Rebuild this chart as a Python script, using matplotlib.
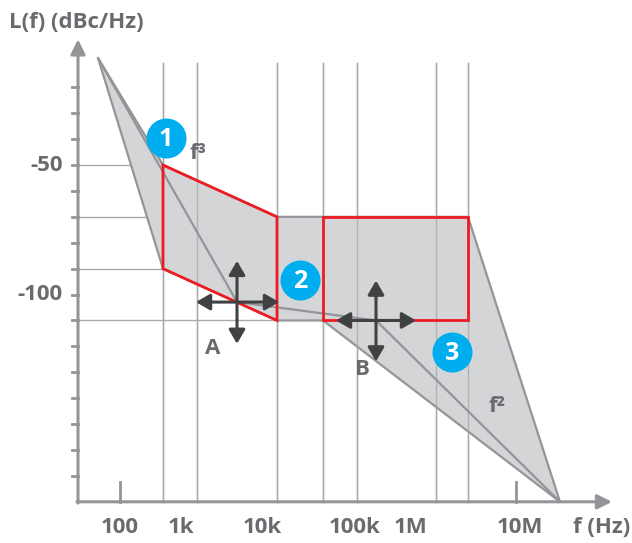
import matplotlib
matplotlib.use("Agg")
import matplotlib.pyplot as plt
from matplotlib.patches import Polygon

plt.rcParams['font.family'] = ['Open Sans', 'DejaVu Sans']

# schematic x positions (diagram units) and noise levels in dBc/Hz
xtick_labels = ["100", "1k", "10k", "100k", "1M", "10M"]
xtick_pos = [120, 181, 262, 355, 411, 520]
xgrid = [163, 197, 277, 323, 357, 436, 468]
ytick_major = [-50, -100]
ytick_minor = [-20, -30, -40, -60, -70, -80, -90, -110, -120, -130, -140, -150, -160, -170]
hgrid = [(-50, 163), (-70, 277), (-90, 163), (-110, 277)]

# shaded envelope of possible noise profiles
env_x = [98, 163, 277, 323, 560, 468, 277, 163]
env_y = [-8.7, -90, -110, -110, -180, -70, -70, -50]
# typical profile
mid_x = [98, 237, 376, 560]
mid_y = [-8.7, -102.9, -110, -180]
# red regions
quad_x = [163, 277, 277, 163]
quad_y = [-50, -70, -110, -90]
rect_x = [323, 468, 468, 323]
rect_y = [-70, -70, -110, -110]

badges = [("1", 166, -39.5), ("2", 300, -94.4), ("3", 452, -122.2)]
slopes = [("f³", 198, -45.4), ("f²", 497, -143.4)]
points = [("A", 213, -120.7), ("B", 362, -128.8)]
crosses = [(237, -102.9, 196, 279, -87.0, -119.0), (376, -110, 336, 416, -94.6, -125.8)]

GRAY_TXT = "#6a6b6e"
GRAY_LN = "#939598"
GRID = "#a7a9ac"
FILL = "#d4d5d7"
RED = "#ed1c24"
BLUE = "#00aeef"
DARK = "#414042"

fig = plt.figure(figsize=(6.32, 5.43), dpi=100)
ax = fig.add_axes([0, 0, 1, 1])
ax.set_xlim(0, 632)
ax.set_ylim(-195.9, 13.7)
ax.axis("off")

# grid
for x in xgrid:
    ax.plot([x, x], [-180, -10.5], color=GRID, lw=1.0, zorder=1)
for y, xe in hgrid:
    ax.plot([80, xe], [y, y], color=GRID, lw=1.0, zorder=1)

# envelope
ax.add_patch(Polygon(list(zip(env_x, env_y)), closed=True, facecolor=FILL,
                     edgecolor=GRAY_LN, lw=1.6, zorder=2))
ax.plot(mid_x, mid_y, color=GRAY_LN, lw=1.6, zorder=3)
for x in xgrid:
    ax.plot([x, x], [-180, -10.5], color=GRID, lw=1.0, zorder=2.5, alpha=0.8)

# red regions
ax.add_patch(Polygon(list(zip(quad_x, quad_y)), closed=True, fill=False,
                     edgecolor=RED, lw=2.0, zorder=4))
ax.add_patch(Polygon(list(zip(rect_x, rect_y)), closed=True, fill=False,
                     edgecolor=RED, lw=2.0, zorder=4))

# axes with arrows
ax.annotate("", xy=(78, -1.5), xytext=(78, -180.5),
            arrowprops=dict(arrowstyle="-|>", color=GRAY_LN, lw=2.2,
                            mutation_scale=22, shrinkA=0, shrinkB=0), zorder=5)
ax.annotate("", xy=(612, -180), xytext=(77, -180),
            arrowprops=dict(arrowstyle="-|>", color=GRAY_LN, lw=2.2,
                            mutation_scale=22, shrinkA=0, shrinkB=0), zorder=5)
for y in ytick_minor + ytick_major:
    ax.plot([72, 78], [y, y], color=GRAY_LN, lw=2.0, zorder=5)
for x in [120, 516]:
    ax.plot([x, x], [-180, -172.4], color=GRAY_LN, lw=2.0, zorder=5)

# crosshair arrows
for cx, cy, x0, x1, y0, y1 in crosses:
    kw = dict(arrowstyle="<|-|>,head_length=0.6,head_width=0.35", color=DARK,
              lw=2.2, mutation_scale=14, shrinkA=0, shrinkB=0)
    ax.annotate("", xy=(x1, cy), xytext=(x0, cy), arrowprops=kw, zorder=6)
    ax.annotate("", xy=(cx, y0), xytext=(cx, y1), arrowprops=kw, zorder=6)

# badges
for t, x, y in badges:
    ax.scatter([x], [y], s=830, color=BLUE, zorder=7, linewidths=0)
    ax.text(x, y - 0.6, t, color="white", fontsize=18, fontweight="bold",
            ha="center", va="center", zorder=8)

for t, x, y in slopes + points:
    ax.text(x, y, t, color=GRAY_TXT, fontsize=16, fontweight="bold",
            ha="center", va="center", zorder=8)

# labels
for t, x in zip(xtick_labels, xtick_pos):
    ax.text(x, -189.8, t, color=GRAY_TXT, fontsize=16, fontweight="bold",
            ha="center", va="center")
for y in ytick_major:
    ax.text(63, y, str(y), color=GRAY_TXT, fontsize=16, fontweight="bold",
            ha="right", va="center")
ax.text(9, 5.2, "L(f) (dBc/Hz)", color=GRAY_TXT, fontsize=16, fontweight="bold",
        ha="left", va="center")
ax.text(602, -189.8, "f (Hz)", color=GRAY_TXT, fontsize=16, fontweight="bold",
        ha="center", va="center")

fig.savefig("out.png", dpi=100)
